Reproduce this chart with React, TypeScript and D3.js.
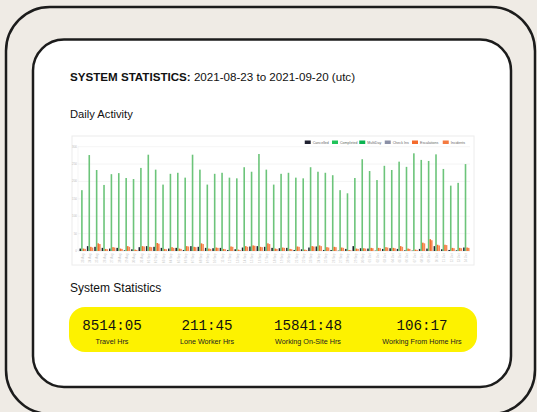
import React from "react";
import * as d3 from "d3";

const categories = [
  "23 Aug","24 Aug","25 Aug","26 Aug","27 Aug","28 Aug","29 Aug","30 Aug","31 Aug",
  "01 Sep","02 Sep","03 Sep","04 Sep","05 Sep","06 Sep","07 Sep","08 Sep","09 Sep","10 Sep",
  "11 Sep","12 Sep","13 Sep","14 Sep","15 Sep","16 Sep","17 Sep","18 Sep","19 Sep","20 Sep",
  "21 Sep","22 Sep","23 Sep","24 Sep","25 Sep","26 Sep","27 Sep","28 Sep","29 Sep","30 Sep",
  "01 Oct","02 Oct","03 Oct","04 Oct","05 Oct","06 Oct","07 Oct","08 Oct","09 Oct","10 Oct",
  "11 Oct","12 Oct","13 Oct","14 Oct",
];

const cancelled = [7,14,12,9,7,9,2,5,11,14,12,9,7,9,3,14,12,9,8,9,3,5,10,13,14,12,9,8,9,3,5,10,13,3,3,1,6,14,8,7,1,6,8,6,2,1,6,7,14,5,3,2,10];
const completed = [175,276,233,190,221,224,210,207,239,277,234,191,222,225,211,277,234,191,222,225,211,209,241,228,279,234,191,222,225,211,209,241,228,225,218,175,166,210,264,230,204,245,233,257,242,281,262,259,278,236,188,196,250];
const multiDay = [0,0,0,0,0,0,0,0,0,0,0,0,0,0,0,0,0,0,0,0,0,0,0,0,0,0,0,0,0,0,0,0,0,0,0,0,0,0,0,0,0,0,0,0,0,0,0,0,0,0,0,0,0];
const checkIns = [0,0,0,0,0,0,0,0,0,0,0,0,0,0,0,0,0,0,0,0,0,0,0,0,0,0,0,0,0,0,0,0,0,0,0,0,0,0,0,0,0,0,0,0,0,0,0,0,0,0,0,0,0];
const escalations = [7,12,22,6,11,7,14,4,14,12,23,6,11,7,14,12,22,7,10,6,13,4,14,16,12,22,7,10,6,13,4,14,16,11,12,10,3,7,8,9,9,11,9,14,7,4,24,34,18,18,9,9,10];
const incidents = [6,10,20,5,10,6,12,3,13,11,21,5,9,6,13,11,20,6,9,5,12,3,12,15,11,20,6,9,5,12,3,13,14,10,11,9,2,6,7,8,8,10,8,12,6,3,22,31,16,17,8,8,9];

const yTicks = [0, 50, 100, 150, 200, 250, 300];

const seriesNames = ["Cancelled", "Completed", "MultiDay", "Check Ins", "Escalations", "Incidents"];
const seriesColors = ["#1f2130", "#20c35a", "#0bb350", "#8a8fa6", "#f46a2c", "#f47a40"];
const barColors = ["#1f2130", "#6cc47a", "#0bb350", "#8a8fa6", "#f2712f", "#f58a55"];

const statValues = ["8514:05", "211:45", "15841:48", "106:17"];
const statLabels = ["Travel Hrs", "Lone Worker Hrs", "Working On-Site Hrs", "Working From Home Hrs"];

const W = 537;
const H = 412;

export default function App() {
  const plotL = 79, plotR = 470, plotT = 146.7, plotB = 251;
  const x = d3.scaleBand<string>().domain(categories).range([plotL, plotR]).paddingInner(0).paddingOuter(0);
  const y = d3.scaleLinear().domain([0, 300]).range([plotB, plotT]);
  const seriesData = [cancelled, completed, multiDay, checkIns, escalations, incidents];
  const slotOrder = ["Cancelled", "Completed", "Escalations", "Incidents"];
  const sub = d3.scaleBand<string>().domain(slotOrder).range([0.5, x.step() - 0.5]).paddingInner(0);

  // legend layout
  const lfs = 3.6;
  const charW = 1.75;
  const itemW = seriesNames.map((n) => 6 + 2 + n.length * charW + 3.5);
  const totalW = d3.sum(itemW);
  let lx = plotR - totalW;
  const legendItems = seriesNames.map((n, i) => {
    const item = { name: n, color: seriesColors[i], x: lx };
    lx += itemW[i];
    return item;
  });

  const statCenters = [112, 207, 308, 422];
  const sans = "'Liberation Sans', Arial, Helvetica, sans-serif";
  const mono = "'Liberation Mono', 'DejaVu Sans Mono', monospace";

  return (
    <svg width={W} height={H} style={{ position: "absolute", left: 0, top: 0, display: "block" }}>
      <rect x={0} y={0} width={W} height={H} fill="#efebe5" />
      <rect x={6} y={7} width={529} height={407} rx={44} ry={44} fill="#efebe5" stroke="#1c1c1c" strokeWidth={2.5} />
      <rect x={33} y={39.5} width={478} height={347.5} rx={31} ry={31} fill="#ffffff" stroke="#1c1c1c" strokeWidth={2.5} />

      <text x={70} y={81} fontFamily={sans} fontSize={11.6} fill="#111">
        <tspan fontWeight="bold">SYSTEM STATISTICS:</tspan>
        <tspan> 2021-08-23 to 2021-09-20 (utc)</tspan>
      </text>
      <text x={70} y={118} fontFamily={sans} fontSize={11.2} fill="#111">Daily Activity</text>

      {/* chart box */}
      <rect x={72} y={136} width={402} height={129} fill="#fff" stroke="#ececec" strokeWidth={1} />

      {/* grid */}
      {yTicks.map((t) => (
        <g key={t}>
          <line x1={plotL - 1} x2={plotR} y1={y(t)} y2={y(t)} stroke={t === 0 ? "#e2e2e2" : "#efefef"} strokeWidth={0.6} />
          <text x={plotL - 2} y={y(t) + 1} fontFamily={sans} fontSize={3} fill="#bbb" textAnchor="end">{t}</text>
        </g>
      ))}
      <line x1={plotL - 1} x2={plotL - 1} y1={plotT} y2={plotB} stroke="#efefef" strokeWidth={0.6} />

      {/* bars */}
      {categories.map((c, i) => (
        <g key={c}>
          {seriesNames.map((s, si) => {
            if (!slotOrder.includes(s)) return null;
            const v = seriesData[si][i];
            if (!v) return null;
            const bx = (x(c) as number) + (sub(s) as number);
            return <rect key={s} x={bx} y={y(v)} width={sub.bandwidth()} height={plotB - y(v)} fill={barColors[si]} />;
          })}
          <text
            transform={`translate(${(x(c) as number) + x.step() / 2 + 1},${plotB + 2.5}) rotate(-90)`}
            fontFamily={sans}
            fontSize={3}
            fill="#c4c4c4"
            textAnchor="end"
          >
            {c}
          </text>
        </g>
      ))}

      {/* legend */}
      {legendItems.map((it) => (
        <g key={it.name}>
          <rect x={it.x} y={140.5} width={6} height={3.5} fill={it.color} />
          <text x={it.x + 8} y={143.6} fontFamily={sans} fontSize={lfs} fill="#666">{it.name}</text>
        </g>
      ))}

      <text x={70} y={292} fontFamily={sans} fontSize={12} fill="#111">System Statistics</text>

      <rect x={69} y={307} width={408} height={45} rx={16} ry={16} fill="#fdf200" />
      {statValues.map((v, i) => (
        <g key={v}>
          <text x={statCenters[i]} y={330} fontFamily={mono} fontSize={14.2} fill="#111" textAnchor="middle">{v}</text>
          <text x={statCenters[i]} y={343.5} fontFamily={sans} fontSize={7.2} fill="#222" textAnchor="middle">{statLabels[i]}</text>
        </g>
      ))}
    </svg>
  );
}
